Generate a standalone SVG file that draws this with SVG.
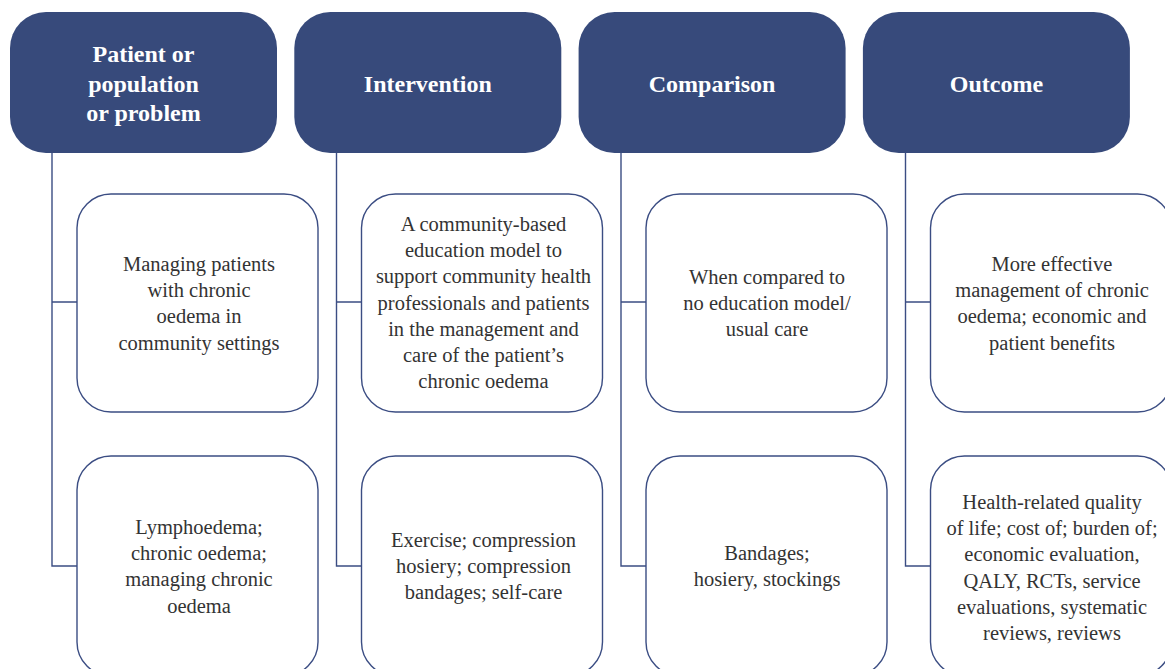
<svg xmlns="http://www.w3.org/2000/svg" width="1165" height="669" viewBox="0 0 1165 669">
<style>
.hd{fill:#374a7b;}
.hdt{fill:#ffffff;font-family:"Liberation Serif","Times New Roman","DejaVu Serif",serif;font-weight:bold;font-size:24px;text-anchor:middle;}
.bx{fill:#ffffff;stroke:#3b4d83;stroke-width:1.4;}
.bt{fill:#333333;font-family:"Liberation Serif","Times New Roman","DejaVu Serif",serif;font-size:20.5px;text-anchor:middle;}
.cn{fill:none;stroke:#3b4d83;stroke-width:1.4;}
</style>
<rect width="1165" height="669" fill="#ffffff"/>
<g id="connectors">
<path class="cn" d="M52,153 V566 H77 M52,302 H77"/>
<path class="cn" d="M336.5,153 V566 H361.5 M336.5,302 H361.5"/>
<path class="cn" d="M621,153 V566 H646 M621,302 H646"/>
<path class="cn" d="M905.5,153 V566 H930.5 M905.5,302 H930.5"/>
</g>
<g id="h1"><rect class="hd" x="10" y="12" width="267" height="141" rx="36"/>
<text class="hdt"><tspan x="143.5" y="62">Patient or</tspan><tspan x="143.5" y="91.5">population</tspan><tspan x="143.5" y="121">or problem</tspan></text></g>
<g id="h2"><rect class="hd" x="294.3" y="12" width="267" height="141" rx="36"/>
<text class="hdt" x="427.8" y="91.5">Intervention</text></g>
<g id="h3"><rect class="hd" x="578.6" y="12" width="267" height="141" rx="36"/>
<text class="hdt" x="712.1" y="91.5">Comparison</text></g>
<g id="h4"><rect class="hd" x="862.9" y="12" width="267" height="141" rx="36"/>
<text class="hdt" x="996.4" y="91.5">Outcome</text></g>

<g id="b1a"><rect class="bx" x="77" y="194" width="241" height="218" rx="34"/>
<text class="bt"><tspan x="199" y="271">Managing patients</tspan><tspan x="199" y="297.2">with chronic</tspan><tspan x="199" y="323.4">oedema in</tspan><tspan x="199" y="349.6">community settings</tspan></text></g>
<g id="b2a"><rect class="bx" x="361.5" y="194" width="241" height="218" rx="34"/>
<text class="bt"><tspan x="483.5" y="231">A community-based</tspan><tspan x="483.5" y="257.2">education model to</tspan><tspan x="483.5" y="283.4">support community health</tspan><tspan x="483.5" y="309.6">professionals and patients</tspan><tspan x="483.5" y="335.8">in the management and</tspan><tspan x="483.5" y="362">care of the patient’s</tspan><tspan x="483.5" y="388.2">chronic oedema</tspan></text></g>
<g id="b3a"><rect class="bx" x="646" y="194" width="241" height="218" rx="34"/>
<text class="bt"><tspan x="767" y="284">When compared to</tspan><tspan x="767" y="310.2">no education model/</tspan><tspan x="767" y="336.4">usual care</tspan></text></g>
<g id="b4a"><rect class="bx" x="930.5" y="194" width="241" height="218" rx="34"/>
<text class="bt"><tspan x="1052" y="271">More effective</tspan><tspan x="1052" y="297.2">management of chronic</tspan><tspan x="1052" y="323.4">oedema; economic and</tspan><tspan x="1052" y="349.6">patient benefits</tspan></text></g>

<g id="b1b"><rect class="bx" x="77" y="456" width="241" height="220" rx="34"/>
<text class="bt"><tspan x="199" y="534">Lymphoedema;</tspan><tspan x="199" y="560.2">chronic oedema;</tspan><tspan x="199" y="586.4">managing chronic</tspan><tspan x="199" y="612.6">oedema</tspan></text></g>
<g id="b2b"><rect class="bx" x="361.5" y="456" width="241" height="220" rx="34"/>
<text class="bt"><tspan x="483.5" y="547">Exercise; compression</tspan><tspan x="483.5" y="573.2">hosiery; compression</tspan><tspan x="483.5" y="599.4">bandages; self-care</tspan></text></g>
<g id="b3b"><rect class="bx" x="646" y="456" width="241" height="220" rx="34"/>
<text class="bt"><tspan x="767" y="560">Bandages;</tspan><tspan x="767" y="586.2">hosiery, stockings</tspan></text></g>
<g id="b4b"><rect class="bx" x="930.5" y="456" width="241" height="220" rx="34"/>
<text class="bt"><tspan x="1052" y="509">Health-related quality</tspan><tspan x="1052" y="535.2">of life; cost of; burden of;</tspan><tspan x="1052" y="561.4">economic evaluation,</tspan><tspan x="1052" y="587.6">QALY, RCTs, service</tspan><tspan x="1052" y="613.8">evaluations, systematic</tspan><tspan x="1052" y="640">reviews, reviews</tspan></text></g>
</svg>
